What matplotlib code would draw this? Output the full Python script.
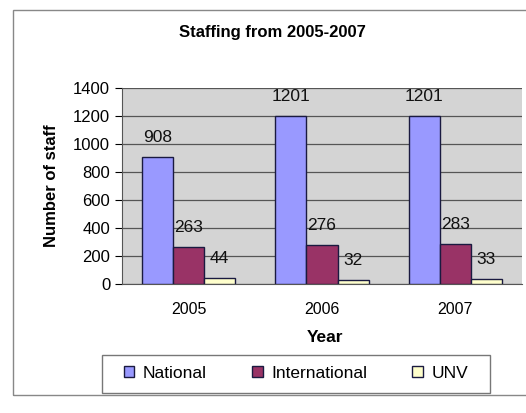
import numpy as np
import matplotlib.pyplot as plt
from matplotlib.patches import Rectangle

plt.rcParams['font.family'] = ['Liberation Sans', 'DejaVu Sans']

years = ["2005", "2006", "2007"]
national = [908, 1201, 1201]
international = [263, 276, 283]
unv = [44, 32, 33]
series = [("National", national, "#9999FF"),
          ("International", international, "#993366"),
          ("UNV", unv, "#FFFFCC")]

fig = plt.figure(figsize=(5.26, 4.13), dpi=100)
# chart area border
fig.patches.append(Rectangle((13/526, 18/413), 530/526, 385/413, transform=fig.transFigure,
                             fill=False, edgecolor="#888888", linewidth=1.0))
# legend border
fig.patches.append(Rectangle((102/526, 20/413), 388/526, 38/413, transform=fig.transFigure,
                             fill=False, edgecolor="#777777", linewidth=1.0))

ax = fig.add_axes([122/526, 1-284/413, 400/526, 196/413])
ax.set_facecolor("#d4d4d4")
x = np.arange(len(years))
w = 0.233
handles = []
for i, (name, vals, col) in enumerate(series):
    b = ax.bar(x + (i-1)*w, vals, w, color=col, edgecolor="#1a1a40", linewidth=1.0,
               label=name, zorder=3)
    handles.append(b)
    for xi, v in zip(x + (i-1)*w, vals):
        ax.annotate(str(v), (xi, v), xytext=(0, 14), textcoords="offset points",
                    ha="center", va="center", fontsize=12.5, color="#111111")

ax.set_xlim(-0.5, 2.5)
ax.set_ylim(0, 1400)
ax.set_yticks(range(0, 1401, 200))
ax.set_xticks(x)
ax.set_xticklabels(years, fontsize=11.5)
ax.tick_params(axis="y", labelsize=12, length=5, direction="out")
ax.tick_params(axis="x", length=0, pad=13)
ax.grid(axis="y", color="#555555", linewidth=0.9, zorder=1)
for s in ["top", "right"]:
    ax.spines[s].set_visible(False)
ax.spines["left"].set_color("#555555")
ax.spines["bottom"].set_color("#555555")
ax.set_ylabel("Number of staff", fontsize=12, fontweight="bold", labelpad=10)

fig.text(272/526, 1-32/413, "Staffing from 2005-2007", ha="center", va="center",
         fontsize=12, fontweight="bold")
fig.text(325/526, 1-338/413, "Year", ha="center", va="center",
         fontsize=12.5, fontweight="bold")

fig.legend(handles=handles, loc="center left", ncol=3,
           bbox_to_anchor=(124/526, 1-373/413),
           fontsize=12.5, frameon=False, handlelength=0.6, handleheight=0.6,
           handletextpad=0.5, borderaxespad=0, borderpad=0, columnspacing=2.6)

fig.savefig("out.png", dpi=100)
